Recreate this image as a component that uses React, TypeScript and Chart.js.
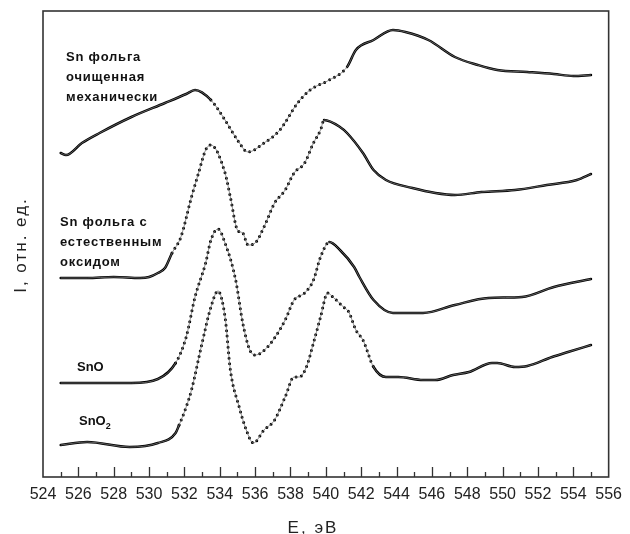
import React, { useEffect, useRef } from "react";
import { Chart, registerables } from "chart.js";

Chart.register(...registerables);

// Energy (eV) and relative intensity for each spectrum
const energyFoil = [525.0, 525.3, 526.2, 527.2, 529.0, 530.9, 532.1, 532.6, 533.5, 534.3, 535.0, 535.6, 536.5, 537.4, 538.4, 539.1, 540.2, 541.2, 541.7, 542.7, 543.8, 544.5, 545.8, 547.3, 548.6, 549.7, 551.4, 552.9, 554.0, 555.0];
const intensityFoil = [324, 322, 334, 344, 360, 374, 383, 387, 377, 357, 337, 325, 334, 347, 374, 387, 397, 410, 427, 437, 447, 445, 437, 420, 412, 407, 405, 403, 401, 402];

const energyOxide = [525.0, 526.5, 528.0, 529.5, 530.0, 530.5, 530.9, 531.3, 531.8, 532.4, 532.8, 533.2, 533.5, 534.3, 534.6, 535.0, 535.3, 535.6, 536.0, 536.5, 537.1, 537.7, 538.2, 538.8, 539.3, 539.7, 539.9, 540.8, 541.2, 542.1, 542.7, 543.4, 544.9, 546.2, 547.3, 548.8, 550.7, 552.5, 554.2, 555.0];
const intensityOxide = [199, 199, 200, 199, 200, 204, 209, 224, 240, 280, 304, 327, 332, 304, 280, 247, 244, 232, 234, 250, 274, 287, 304, 314, 334, 347, 357, 350, 344, 324, 307, 297, 289, 284, 282, 285, 287, 292, 297, 303];

const energySnO = [525.0, 527.0, 529.0, 530.5, 531.5, 532.1, 532.6, 533.2, 533.5, 533.9, 534.3, 534.9, 535.3, 535.7, 536.0, 536.7, 537.7, 538.2, 538.8, 539.3, 539.7, 540.2, 540.8, 541.6, 541.9, 542.7, 543.8, 545.5, 547.3, 549.2, 551.1, 552.9, 555.0];
const intensitySnO = [94, 94, 94, 98, 114, 140, 180, 214, 237, 248, 234, 197, 154, 127, 122, 130, 157, 177, 184, 197, 220, 235, 227, 210, 200, 177, 164, 164, 172, 179, 180, 190, 198];

const energySnO2 = [525.0, 526.5, 528.9, 530.5, 531.5, 531.7, 532.1, 532.4, 533.0, 533.5, 533.9, 534.3, 534.6, 535.1, 535.5, 535.9, 536.5, 537.1, 537.7, 538.2, 538.5, 538.9, 539.3, 539.7, 540.1, 540.4, 541.0, 541.3, 541.7, 542.1, 542.7, 543.4, 544.1, 545.5, 546.2, 547.2, 548.1, 549.4, 549.7, 550.7, 551.4, 552.8, 553.7, 555.0];
const intensitySnO2 = [32, 35, 30, 34, 44, 52, 70, 87, 134, 170, 186, 160, 107, 70, 47, 34, 47, 57, 80, 100, 100, 110, 134, 160, 184, 180, 170, 165, 147, 137, 110, 100, 100, 97, 97, 102, 105, 114, 114, 110, 111, 120, 125, 132];

const xMin = 524;
const xMax = 556;
const xStep = 2;
const yMin = 0;
const yMax = 466;

const xTitle = "E, эВ";
const yTitle = "I, отн. ед.";

const labelFoil = ["Sn фольга", "очищенная", "механически"];
const labelOxide = ["Sn фольга с", "естественным", "оксидом"];
const labelSnO = "SnO";
const labelSnO2 = ["SnO", "2"];

const toPoints = (xs: number[], ys: number[]) => xs.map((x, i) => ({ x, y: ys[i] }));

const FONT = '"Liberation Sans", Arial, sans-serif';

const decorPlugin = {
  id: "decor",
  afterDraw(chart: any) {
    const { ctx, chartArea: a, scales } = chart;
    const x = scales.x;
    ctx.save();
    // frame
    ctx.strokeStyle = "#333";
    ctx.lineWidth = 1.6;
    ctx.strokeRect(a.left, a.top, a.right - a.left, a.bottom - a.top);
    // inward ticks
    ctx.lineWidth = 1.3;
    ctx.beginPath();
    for (let v = xMin + 1; v < xMax; v++) {
      const px = Math.round(x.getPixelForValue(v)) + 0.5;
      const len = v % 2 === 0 ? 10 : 5;
      ctx.moveTo(px, a.bottom);
      ctx.lineTo(px, a.bottom - len);
    }
    ctx.stroke();

    // curve labels
    ctx.fillStyle = "#111";
    ctx.textBaseline = "middle";
    ctx.textAlign = "left";
    ctx.font = `bold 13px ${FONT}`;
    (ctx as any).letterSpacing = "0.8px";
    labelFoil.forEach((t, i) => ctx.fillText(t, 66, 57 + i * 20));
    labelOxide.forEach((t, i) => ctx.fillText(t, 60, 222 + i * 20));
    (ctx as any).letterSpacing = "0px";
    ctx.fillText(labelSnO, 77, 367);
    ctx.fillText(labelSnO2[0], 79, 421);
    const w = ctx.measureText(labelSnO2[0]).width;
    ctx.font = `bold 9px ${FONT}`;
    ctx.fillText(labelSnO2[1], 79 + w, 427);

    // axis titles
    ctx.fillStyle = "#222";
    ctx.font = `17px ${FONT}`;
    (ctx as any).letterSpacing = "2px";
    ctx.textAlign = "center";
    ctx.fillText(xTitle, 313, 528);
    ctx.translate(21, 245);
    ctx.rotate(-Math.PI / 2);
    ctx.fillText(yTitle, 0, 0);
    ctx.restore();
  },
};

// energy ranges drawn as dotted (style only)
const dottedRanges = [
  [532.9, 541.6],
  [531.0, 540.0],
  [531.3, 540.2],
  [531.7, 542.8],
];

const inDotted = (c: any) => {
  const ds = c.chart.data.datasets[c.datasetIndex];
  const r = ds.dotted as number[];
  const x0 = ds.data[c.p0DataIndex].x;
  const x1 = ds.data[c.p1DataIndex].x;
  return x0 >= r[0] && x1 <= r[1];
};

const dottedLine = {
  borderColor: "#000",
  borderWidth: 2.6,
  borderCapStyle: "round" as const,
  pointRadius: 0,
  fill: false,
  cubicInterpolationMode: "monotone" as const,
  segment: {
    borderDash: (c: any) => (inDotted(c) ? [0, 5.5] : undefined),
    borderWidth: (c: any) => (inDotted(c) ? 3 : 2.5),
  },
};

const thinLine = {
  borderColor: "#777",
  borderWidth: 0.8,
  pointRadius: 0,
  fill: false,
  cubicInterpolationMode: "monotone" as const,
};

export default function App() {
  const ref = useRef<HTMLCanvasElement>(null);
  useEffect(() => {
    const series = [
      { label: "Sn фольга очищенная механически", xs: energyFoil, ys: intensityFoil },
      { label: "Sn фольга с естественным оксидом", xs: energyOxide, ys: intensityOxide },
      { label: "SnO", xs: energySnO, ys: intensitySnO },
      { label: "SnO2", xs: energySnO2, ys: intensitySnO2 },
    ];
    const datasets: any[] = [];
    series.forEach((s, i) => {
      datasets.push({ label: s.label + " (line)", data: toPoints(s.xs, s.ys), ...thinLine });
      datasets.push({ label: s.label, data: toPoints(s.xs, s.ys), dotted: dottedRanges[i], ...dottedLine });
    });
    const chart = new Chart(ref.current!, {
      type: "line",
      data: { datasets },
      options: {
        responsive: false,
        animation: false,
        layout: { padding: { left: 43, top: 11, right: 15, bottom: 0 } },
        plugins: { legend: { display: false }, tooltip: { enabled: false } },
        scales: {
          x: {
            type: "linear",
            min: xMin,
            max: xMax,
            ticks: {
              stepSize: xStep,
              font: { size: 16, family: FONT },
              color: "#222",
              padding: 8,
              maxRotation: 0,
              autoSkip: false,
            },
            grid: { display: false, drawTicks: false },
            border: { display: false },
            afterFit: (s: any) => {
              s.height = 57;
            },
          },
          y: { display: false, min: yMin, max: yMax },
        },
      },
      plugins: [decorPlugin],
    });
    return () => chart.destroy();
  }, []);
  return (
    <div style={{ position: "fixed", left: 0, top: 0, width: 630, height: 534, background: "#fff" }}>
      <canvas ref={ref} width={630} height={534} style={{ width: 630, height: 534, display: "block" }} />
    </div>
  );
}
